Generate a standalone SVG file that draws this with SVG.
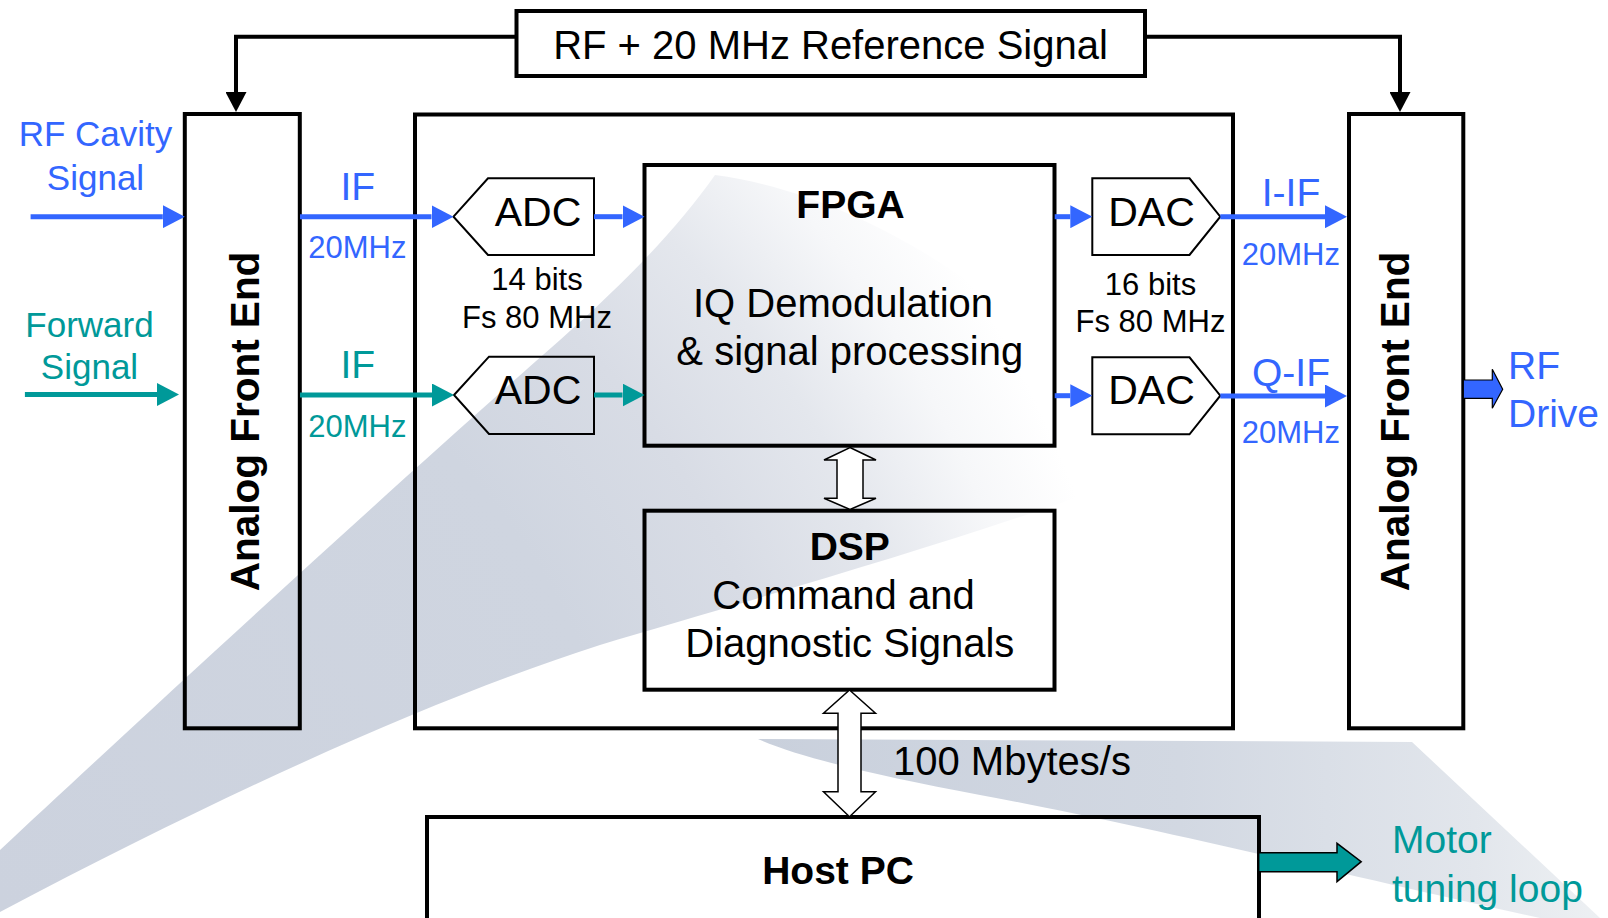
<svg xmlns="http://www.w3.org/2000/svg" width="1608" height="918" viewBox="0 0 1608 918">
  <defs>
    <radialGradient id="swooshFill" gradientUnits="userSpaceOnUse" cx="0" cy="900" r="1150">
      <stop offset="0" stop-color="#ccd2de"/>
      <stop offset="0.55" stop-color="#cfd5e0"/>
      <stop offset="0.7" stop-color="#d8dce5"/>
      <stop offset="0.82" stop-color="#e4e7ed"/>
      <stop offset="0.92" stop-color="#f6f7f9"/>
      <stop offset="1" stop-color="#ffffff"/>
    </radialGradient>
    <linearGradient id="bladeFill" gradientUnits="userSpaceOnUse" x1="760" y1="0" x2="1600" y2="0">
      <stop offset="0" stop-color="#c9d0dc"/>
      <stop offset="0.5" stop-color="#d2d8e2"/>
      <stop offset="0.85" stop-color="#e2e6ec"/>
      <stop offset="1" stop-color="#edf0f3"/>
    </linearGradient>
    <marker id="headBlue" markerUnits="userSpaceOnUse" markerWidth="22" markerHeight="23" refX="0" refY="11.5" orient="auto">
      <path d="M0,0 L22,11.5 L0,23 Z" fill="#3366ff"/>
    </marker>
    <marker id="headTeal" markerUnits="userSpaceOnUse" markerWidth="22" markerHeight="23" refX="0" refY="11.5" orient="auto">
      <path d="M0,0 L22,11.5 L0,23 Z" fill="#009999"/>
    </marker>
    <marker id="headBlack" markerUnits="userSpaceOnUse" markerWidth="22" markerHeight="21" refX="0" refY="10.5" orient="auto">
      <path d="M0,0 L20,10.5 L0,21 Z" fill="#000"/>
    </marker>
    <style>
      .box { fill: none; stroke: #000; stroke-width: 4; }
      .conv { fill: none; stroke: #000; stroke-width: 2; }
      .hollow { fill: #fff; stroke: #000; stroke-width: 1.5; stroke-linejoin: miter; }
      .blue { stroke: #3366ff; stroke-width: 5; fill: none; marker-end: url(#headBlue); }
      .teal { stroke: #009999; stroke-width: 5; fill: none; marker-end: url(#headTeal); }
      .ref { stroke: #000; stroke-width: 4; fill: none; marker-end: url(#headBlack); }
      text { font-family: "Liberation Sans", Arial, sans-serif; fill: #000; }
      .t40 { font-size: 40px; }
      .t31 { font-size: 31px; }
      .b39 { font-size: 39px; font-weight: bold; }
      .afe { font-size: 40.5px; font-weight: bold; }
      .cb { fill: #3366ff; }
      .ct { fill: #009999; }
      .mid { text-anchor: middle; }
    </style>
  </defs>

  <!-- background sweep shapes -->
  <g id="background">
    <path d="M0,850 C150,710 400,480 560,340 C630,278 680,225 715,175 C900,200 1080,350 1150,470 C1000,530 750,600 600,645 C450,693 250,780 0,912 Z" fill="url(#swooshFill)"/>
    <path d="M758,739 L1412,742 L1600,918 L1540,918 C1400,888 1150,826 980,795 C880,776 800,758 758,739 Z" fill="url(#bladeFill)"/>
  </g>

  <!-- reference signal source -->
  <g id="ref-signal">
    <rect class="box" x="516.5" y="11" width="628.5" height="65"/>
    <text class="t40 mid" x="830.5" y="59">RF + 20 MHz Reference Signal</text>
  </g>

  <!-- analog front ends -->
  <g id="afe-left">
    <rect class="box" x="184.8" y="114" width="115" height="614.3"/>
    <text class="afe mid" transform="translate(258.5,421.5) rotate(-90)">Analog Front End</text>
  </g>
  <g id="afe-right">
    <rect class="box" x="1349" y="114" width="114.3" height="614.3"/>
    <text class="afe mid" transform="translate(1409,421.5) rotate(-90)">Analog Front End</text>
  </g>

  <!-- main board enclosure -->
  <g id="board">
    <rect class="box" x="415" y="114.5" width="818" height="613.8"/>
  </g>

  <!-- converters -->
  <g id="adc-1">
    <polygon class="conv" points="453.5,216.7 488,178.3 594,178.3 594,255 488,255"/>
    <text class="mid" style="font-size:41px" x="538" y="226">ADC</text>
  </g>
  <g id="adc-2">
    <polygon class="conv" points="454,395 489,356.7 594,356.7 594,434 489,434"/>
    <text class="mid" style="font-size:41px" x="538" y="403.5">ADC</text>
  </g>
  <g id="dac-1">
    <polygon class="conv" points="1092.3,178.3 1189.5,178.3 1220.3,216.7 1189.5,255 1092.3,255"/>
    <text class="mid" style="font-size:41px" x="1151.5" y="226">DAC</text>
  </g>
  <g id="dac-2">
    <polygon class="conv" points="1092.3,357.3 1189.5,357.3 1220.3,395.7 1189.5,434.3 1092.3,434.3"/>
    <text class="mid" style="font-size:41px" x="1151.5" y="404">DAC</text>
  </g>

  <!-- converter specs -->
  <g id="adc-spec">
    <text class="t31 mid" x="537" y="290">14 bits</text>
    <text class="t31 mid" x="537" y="328.3">Fs 80 MHz</text>
  </g>
  <g id="dac-spec">
    <text class="t31 mid" x="1150.5" y="295">16 bits</text>
    <text class="t31 mid" x="1150.5" y="331.7">Fs 80 MHz</text>
  </g>

  <!-- processing blocks -->
  <g id="fpga">
    <rect class="box" x="644.5" y="165" width="410" height="280.7"/>
    <text class="b39 mid" x="850.5" y="218.3">FPGA</text>
    <text class="t40 mid" x="843" y="317">IQ Demodulation</text>
    <text class="t40 mid" x="849.8" y="365">&amp; signal processing</text>
  </g>
  <g id="dsp">
    <rect class="box" x="644.5" y="510.7" width="410" height="179"/>
    <text class="b39 mid" x="849.8" y="560">DSP</text>
    <text class="t40 mid" x="843.5" y="608.5">Command and</text>
    <text class="t40 mid" x="849.8" y="657">Diagnostic Signals</text>
  </g>
  <g id="host-pc">
    <path class="box" d="M427,930 V817 H1259 V930"/>
    <text class="b39 mid" x="838" y="883.5">Host PC</text>
  </g>

  <!-- connectors -->
  <g id="connectors">
    <!-- reference distribution -->
    <path class="ref" d="M516.5,36.7 H236 V92"/>
    <path class="ref" d="M1145,36.7 H1400 V92"/>

    <!-- RF cavity path -->
    <line class="blue" x1="30.6" y1="216.7" x2="162.8" y2="216.7"/>
    <line class="blue" x1="300" y1="216.7" x2="431.5" y2="216.7"/>
    <line class="blue" x1="594" y1="216.7" x2="622.5" y2="216.7"/>
    <line class="blue" x1="1054.7" y1="216.7" x2="1070.3" y2="216.7"/>
    <line class="blue" x1="1220.3" y1="216.7" x2="1325" y2="216.7"/>

    <!-- forward signal path -->
    <line class="teal" x1="24.9" y1="394.5" x2="157" y2="394.5"/>
    <line class="teal" x1="300" y1="395" x2="432" y2="395"/>
    <line class="teal" x1="594" y1="395" x2="622.5" y2="395"/>

    <!-- Q channel output -->
    <line class="blue" x1="1054.7" y1="395.7" x2="1070.3" y2="395.7"/>
    <line class="blue" x1="1220.3" y1="396" x2="1325" y2="396"/>

    <!-- RF drive out -->
    <path d="M1463.3,380 L1492.3,380 L1492.3,369.3 L1502.7,389.3 L1492.3,408.3 L1492.3,398.3 L1463.3,398.3 Z" fill="#3366ff" stroke="#000" stroke-width="1.2"/>

    <!-- motor tuning loop out -->
    <path d="M1258.7,852.7 L1337,852.7 L1337,843.3 L1361.2,861.7 L1337,881.7 L1337,871.7 L1258.7,871.7 Z" fill="#009999" stroke="#000" stroke-width="1.5"/>

    <!-- FPGA <-> DSP -->
    <path class="hollow" d="M850,447.5 L876,460 L863,460 L863,498.3 L876,498.3 L850,509.5 L824,498.3 L837,498.3 L837,460 L824,460 Z"/>

    <!-- DSP <-> Host PC -->
    <path class="hollow" d="M849.5,690 L875.5,713.3 L861,713.3 L861,791.7 L875.5,791.7 L849.5,816.7 L823.5,791.7 L838,791.7 L838,713.3 L823.5,713.3 Z"/>
  </g>

  <!-- signal labels -->
  <g id="labels">
    <text class="cb mid" style="font-size:35px" x="95.5" y="145.7">RF Cavity</text>
    <text class="cb mid" style="font-size:35px" x="95.5" y="190">Signal</text>
    <text class="ct mid" style="font-size:35px" x="89.5" y="336.7">Forward</text>
    <text class="ct mid" style="font-size:35px" x="89.5" y="379">Signal</text>

    <text class="cb mid" style="font-size:39px" x="357.8" y="200">IF</text>
    <text class="cb t31 mid" x="357.3" y="258.3">20MHz</text>
    <text class="ct mid" style="font-size:39px" x="357.8" y="378.3">IF</text>
    <text class="ct t31 mid" x="357.3" y="436.7">20MHz</text>

    <text class="cb mid" style="font-size:39px" x="1291" y="206">I-IF</text>
    <text class="cb t31 mid" x="1290.8" y="265">20MHz</text>
    <text class="cb mid" style="font-size:39px" x="1291" y="386">Q-IF</text>
    <text class="cb t31 mid" x="1290.8" y="443.3">20MHz</text>

    <text class="cb" style="font-size:39px" x="1508" y="379.3">RF</text>
    <text class="cb" style="font-size:39px" x="1508" y="426.7">Drive</text>

    <text class="t40" x="893" y="775">100 Mbytes/s</text>

    <text class="ct" style="font-size:39px" x="1392" y="853.3">Motor</text>
    <text class="ct" style="font-size:39px" x="1392" y="901.7">tuning loop</text>
  </g>
</svg>
